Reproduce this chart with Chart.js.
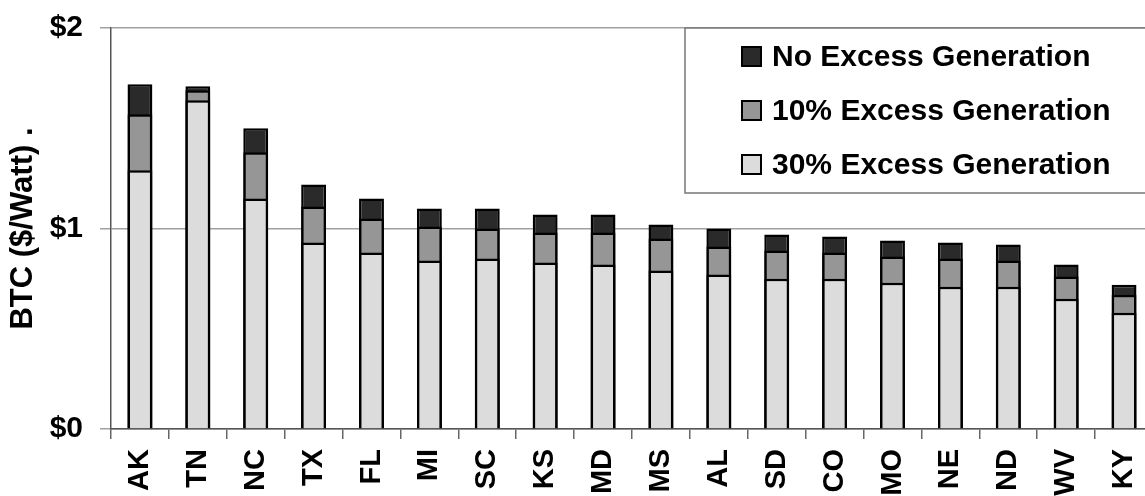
<!DOCTYPE html>
<html lang="en">
<head>
    <meta charset="UTF-8">
    <title>BTC by State</title>
    <script src="https://cdn.jsdelivr.net/npm/chart.js"></script>
    <style>
        html, body { margin: 0; padding: 0; overflow: hidden; background: #fff; }
        #wrap { width: 1157px; height: 496px; }
    </style>
</head>
<body>
<div id="wrap"><canvas id="btcChart" width="1157" height="496"></canvas></div>

<script>
    // states along the x axis
    const states = ['AK','TN','NC','TX','FL','MI','SC','KS','MD','MS','AL','SD','CO','MO','NE','ND','WV','KY'];

    // BTC ($/Watt)
    const noExcess = [1.72,1.71,1.50,1.22,1.15,1.10,1.10,1.07,1.07,1.02,1.00,0.97,0.96,0.94,0.93,0.92,0.82,0.72];
    const tenExcess = [1.57,1.69,1.38,1.11,1.05,1.01,1.00,0.98,0.98,0.95,0.91,0.89,0.88,0.86,0.85,0.84,0.76,0.67];
    const thirtyExcess = [1.29,1.64,1.15,0.93,0.88,0.84,0.85,0.83,0.82,0.79,0.77,0.75,0.75,0.73,0.71,0.71,0.65,0.58];

    const yTicks = [0, 1, 2];

    const font = 'Arial, "Liberation Sans", sans-serif';

    // legend box drawn inside the plot, top right
    const boxLegend = {
        id: 'boxLegend',
        afterDraw(chart) {
            const ctx = chart.ctx;
            const area = chart.chartArea;
            const x0 = area.left + 574, y0 = area.top;
            ctx.save();
            ctx.fillStyle = '#fff';
            ctx.fillRect(x0, y0, 600, 165);
            ctx.strokeStyle = '#777';
            ctx.lineWidth = 1.5;
            ctx.strokeRect(x0, y0, 600, 165);
            const sets = chart.data.datasets.slice().reverse();
            sets.forEach((ds, i) => {
                const cy = y0 + 28.5 + i * 54;
                ctx.fillStyle = ds.backgroundColor;
                ctx.fillRect(x0 + 57, cy - 9.5, 19, 19);
                ctx.strokeStyle = '#000';
                ctx.lineWidth = 2;
                ctx.strokeRect(x0 + 57, cy - 9.5, 19, 19);
                ctx.fillStyle = '#000';
                ctx.font = 'bold 30px ' + font;
                ctx.textBaseline = 'middle';
                ctx.fillText(ds.label, x0 + 87, cy + 1);
            });
            ctx.restore();
        }
    };

    const barStyle = { borderColor: '#000', borderWidth: 2.5, barPercentage: 0.43, categoryPercentage: 1 };

    new Chart(document.getElementById('btcChart'), {
        type: 'bar',
        data: {
            labels: states,
            datasets: [
                Object.assign({ label: '30% Excess Generation', data: thirtyExcess, backgroundColor: '#dcdcdc' }, barStyle),
                Object.assign({ label: '10% Excess Generation', data: tenExcess, backgroundColor: '#969696' }, barStyle),
                Object.assign({ label: 'No Excess Generation', data: noExcess, backgroundColor: '#2a2a2a' }, barStyle)
            ]
        },
        options: {
            responsive: false,
            animation: false,
            layout: { padding: { left: 0, right: 4, top: 28, bottom: 0 } },
            plugins: { legend: { display: false }, tooltip: { enabled: false } },
            scales: {
                x: {
                    stacked: true,
                    offset: true,
                    afterFit: (axis) => { axis.height = 67; axis.paddingLeft = 0; axis.paddingRight = 0; },
                    grid: { offset: true, drawOnChartArea: false, drawTicks: true, tickLength: 10, color: '#666', lineWidth: 1.5 },
                    border: { color: '#555', width: 1.5 },
                    ticks: {
                        autoSkip: false, minRotation: 90, maxRotation: 90, padding: 10,
                        color: '#000', font: { family: font, size: 29, weight: 'bold' }
                    }
                },
                y: {
                    stacked: false,
                    min: 0, max: 2,
                    afterBuildTicks: (axis) => { axis.ticks = yTicks.map(v => ({ value: v })); },
                    afterFit: (axis) => { axis.width = 111; axis.paddingTop = 0; axis.paddingBottom = 0; },
                    grid: { color: '#a0a0a0', lineWidth: 1.5, tickLength: 11 },
                    border: { color: '#555', width: 1.5 },
                    ticks: {
                        padding: 17, color: '#000',
                        font: { family: font, size: 30, weight: 'bold' },
                        callback: (v) => '$' + v
                    },
                    title: {
                        display: true, text: 'BTC ($/Watt) .', color: '#000',
                        font: { family: font, size: 31, weight: 'bold' },
                        padding: { top: 5, bottom: 0 }
                    }
                }
            }
        },
        plugins: [boxLegend]
    });
</script>
</body>
</html>
